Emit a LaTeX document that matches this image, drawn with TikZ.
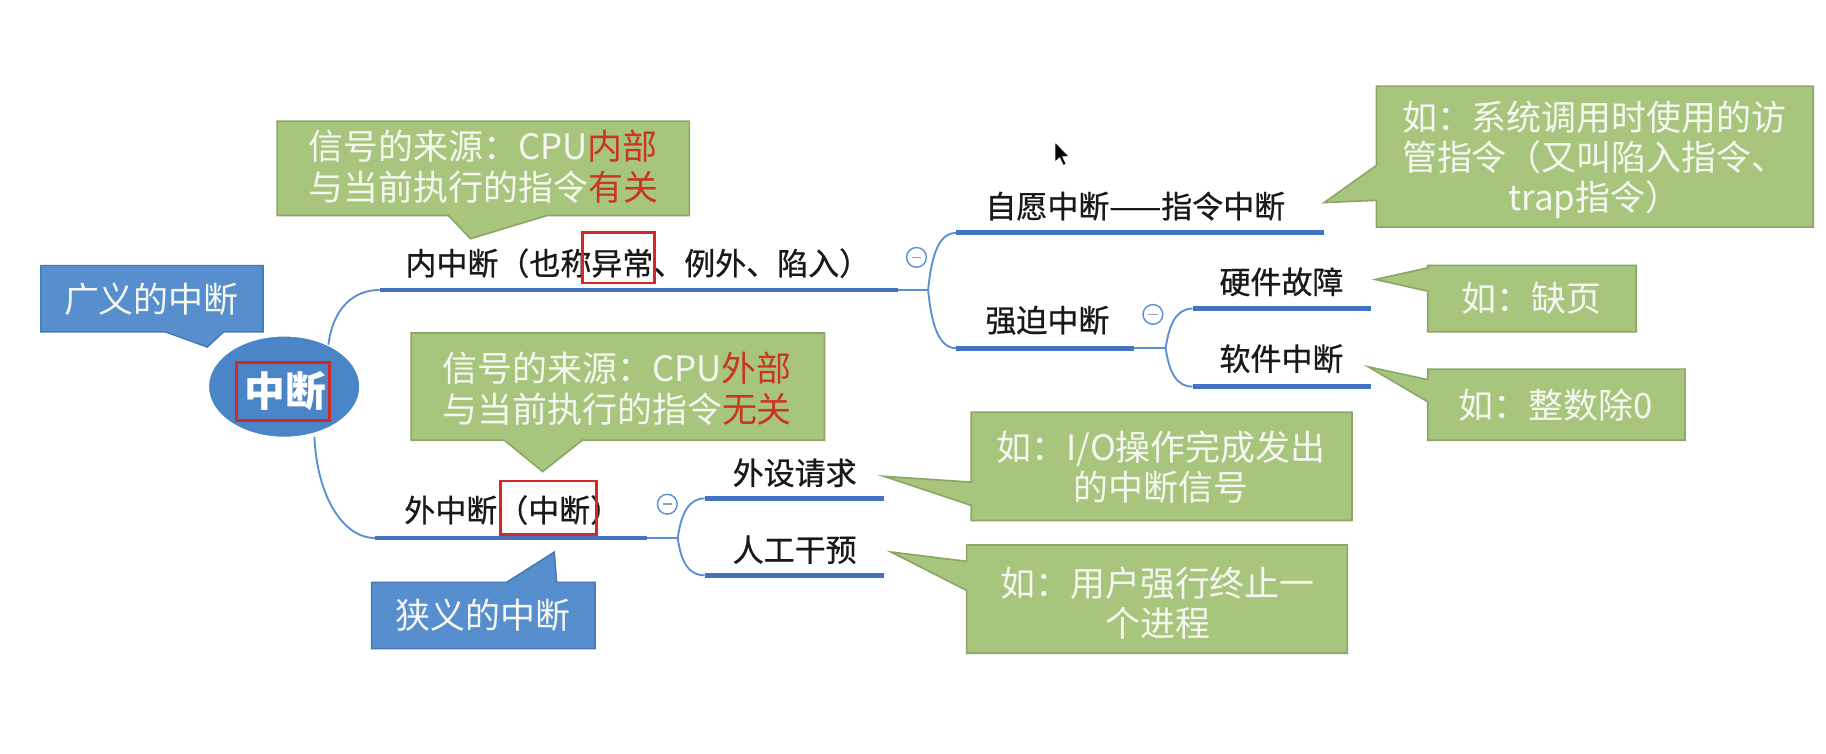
\documentclass[tikz,border=0pt]{standalone}
\usepackage{fontspec}
\setmainfont{Noto Sans CJK SC}
\newfontfamily\lblfont[FakeBold=0.7]{Noto Sans CJK SC}
\usetikzlibrary{calc,shapes.geometric}
\definecolor{gfill}{RGB}{168,197,126}
\definecolor{gdraw}{RGB}{138,166,104}
\definecolor{bfill}{RGB}{86,142,206}
\definecolor{bdraw}{RGB}{70,118,182}
\definecolor{rootfill}{RGB}{74,133,200}
\definecolor{thickc}{RGB}{68,114,196}
\definecolor{thinc}{RGB}{92,142,210}
\definecolor{hl}{RGB}{212,40,40}
\definecolor{gtext}{RGB}{246,247,240}
\definecolor{redt}{RGB}{200,55,30}
\definecolor{minusc}{RGB}{150,160,175}
\begin{document}
\begin{tikzpicture}[x=1pt,y=-1pt,
  gcall/.style={fill=gfill,draw=gdraw,line width=1.4pt},
  bcall/.style={fill=bfill,draw=bdraw,line width=1.2pt},
  gtxt/.style={text=gtext,font=\fontsize{30}{35}\selectfont,align=center,inner sep=0pt},
  lbl/.style={text=black!90,font=\lblfont\fontsize{26.6}{30}\selectfont,inner sep=0pt,anchor=west},
  uline/.style={draw=thickc,line width=4.2pt},
  tline/.style={draw=thinc,line width=1.6pt},
  hlbox/.style={draw=hl,line width=2.5pt},
  minus/.style={draw=thinc,line width=1.2pt,circle,minimum size=17pt,inner sep=0pt,fill=white},
]
\useasboundingbox[fill=white] (0,0) rectangle (1568,647);

% ---------- root ----------
\node[ellipse,fill=rootfill,draw=white,line width=1pt,minimum width=130pt,minimum height=87pt] (root) at (244,332) {};
\node[text=white,font=\fontsize{35}{40}\selectfont\bfseries,inner sep=0pt] (roottxt) at (245,336) {中断};
\draw[hlbox] (203,311) rectangle (283,361);

% ---------- coordinates of branch lines ----------
\coordinate (r1) at (282,296);
\coordinate (a0) at (326,249);
\coordinate (a1) at (771,249);
\coordinate (af) at (797,249);
\coordinate (b0) at (821,200);
\coordinate (b1) at (1137,200);
\coordinate (c0) at (821,299);
\coordinate (c1) at (974,299);
\coordinate (cf) at (1001,299);
\coordinate (d0) at (1024,265);
\coordinate (d1) at (1177,265);
\coordinate (e0) at (1024,332);
\coordinate (e1) at (1177,332);
\coordinate (r2) at (270,375);
\coordinate (g0) at (322,462);
\coordinate (g1) at (556,462);
\coordinate (gf) at (582,462);
\coordinate (h0) at (605,428);
\coordinate (h1) at (759,428);
\coordinate (i0) at (605,494);
\coordinate (i1) at (759,494);

% thin connectors
\draw[tline] (r1) .. controls ($(r1)+(4,-32)$) and ($(a0)+(-22,0)$) .. (a0);
\draw[tline] (r2) .. controls ($(r2)+(2,50)$) and ($(g0)+(-28,0)$) .. (g0);
\draw[tline] (a1) -- (af);
\draw[tline] (af) .. controls ($(af)+(3,-32)$) and ($(b0)+(-14,0)$) .. (b0);
\draw[tline] (af) .. controls ($(af)+(3,32)$) and ($(c0)+(-14,0)$) .. (c0);
\draw[tline] (c1) -- (cf);
\draw[tline] (cf) .. controls ($(cf)+(3,-22)$) and ($(d0)+(-13,0)$) .. (d0);
\draw[tline] (cf) .. controls ($(cf)+(3,22)$) and ($(e0)+(-13,0)$) .. (e0);
\draw[tline] (g1) -- (gf);
\draw[tline] (gf) .. controls ($(gf)+(3,-22)$) and ($(h0)+(-13,0)$) .. (h0);
\draw[tline] (gf) .. controls ($(gf)+(3,22)$) and ($(i0)+(-13,0)$) .. (i0);

% thick underlines
\draw[uline] (a0) -- (a1);
\draw[uline] (b0) -- (b1);
\draw[uline] (c0) -- (c1);
\draw[uline] (d0) -- (d1);
\draw[uline] (e0) -- (e1);
\draw[uline] (g0) -- (g1);
\draw[uline] (h0) -- (h1);
\draw[uline] (i0) -- (i1);

% collapse markers
\foreach \n/\p in {m1/{(787,221)},m2/{(990,270)},m3/{(573,433)}}{
  \node[minus] (\n) at \p {};
  \draw[minusc,line width=1.3pt] ($(\n)+(-4,0)$) -- ($(\n)+(4,0)$);
}

% ---------- labels ----------
\node[lbl] (n1) at (348,226) {内中断（也称异常、例外、陷入）};
\draw[hlbox] (500,200) rectangle (562,243);
\node[lbl] (n2) at (347,438) {外中断（中断）};
\draw[hlbox] (430,413) rectangle (512,459);
\node[lbl] (n11) at (846,177) {自愿中断——指令中断};
\node[lbl] (n12) at (846,275) {强迫中断};
\node[lbl] (n121) at (1047,242) {硬件故障};
\node[lbl] (n122) at (1047,308) {软件中断};
\node[lbl] (n21) at (629,406) {外设请求};
\node[lbl] (n22) at (629,472) {人工干预};

% ---------- blue callouts ----------
\draw[bcall] (35,228) -- (226,228) -- (226,285) -- (192,285) -- (178,298) -- (142,285) -- (35,285) -- cycle;
\node[gtxt] (bt1) at (130,257) {广义的中断};
\draw[bcall] (319,500) -- (435,500) -- (476,474) -- (478,500) -- (511,500) -- (511,557) -- (319,557) -- cycle;
\node[gtxt] (bt2) at (415,528) {狭义的中断};

% ---------- green callouts ----------
\draw[gcall] (238,104) -- (592,104) -- (592,185) -- (470,185) -- (404,205) -- (385,185) -- (238,185) -- cycle;
\node[gtxt] (gt1) at (415,143) {信号的来源：CPU{\color{redt}内部}\\与当前执行的指令{\color{redt}有关}};

\draw[gcall] (353,286) -- (708,286) -- (708,378) -- (500,378) -- (466,405) -- (433,378) -- (353,378) -- cycle;
\node[gtxt] (gt2) at (530,334) {信号的来源：CPU{\color{redt}外部}\\与当前执行的指令{\color{redt}无关}};

\draw[gcall] (1182,74) -- (1557,74) -- (1557,195) -- (1182,195) -- (1182,172) -- (1137,174) -- (1182,142) -- cycle;
\node[gtxt,font=\fontsize{30}{34.5}\selectfont] (gt3) at (1369,137) {如：系统调用时使用的访\\管指令（又叫陷入指令、\\trap指令）};

\draw[gcall] (1226,228) -- (1405,228) -- (1405,285) -- (1226,285) -- (1226,250) -- (1181,240) -- (1226,230) -- cycle;
\node[gtxt] (gt4) at (1315,256) {如：缺页};

\draw[gcall] (1226,317) -- (1447,317) -- (1447,378) -- (1226,378) -- (1226,345) -- (1175,315) -- (1226,326) -- cycle;
\node[gtxt] (gt5) at (1336,348) {如：整数除0};

\draw[gcall] (834,354) -- (1161,354) -- (1161,447) -- (834,447) -- (834,434) -- (759,409) -- (834,414) -- cycle;
\node[gtxt,font=\fontsize{30}{34}\selectfont] (gt6) at (997,401) {如：I/O操作完成发出\\的中断信号};

\draw[gcall] (830,468) -- (1157,468) -- (1157,561) -- (830,561) -- (830,507) -- (765,474) -- (830,482) -- cycle;
\node[gtxt,font=\fontsize{30}{34}\selectfont] (gt7) at (994,518) {如：用户强行终止一\\个进程};

% ---------- mouse cursor ----------
\draw[fill=black,draw=white,line width=0.6pt] (906,122) -- (906,139) -- (910,135.5) -- (913,142) -- (915.5,141) -- (912.5,134.5) -- (918,134.5) -- cycle;
\end{tikzpicture}
\end{document}
